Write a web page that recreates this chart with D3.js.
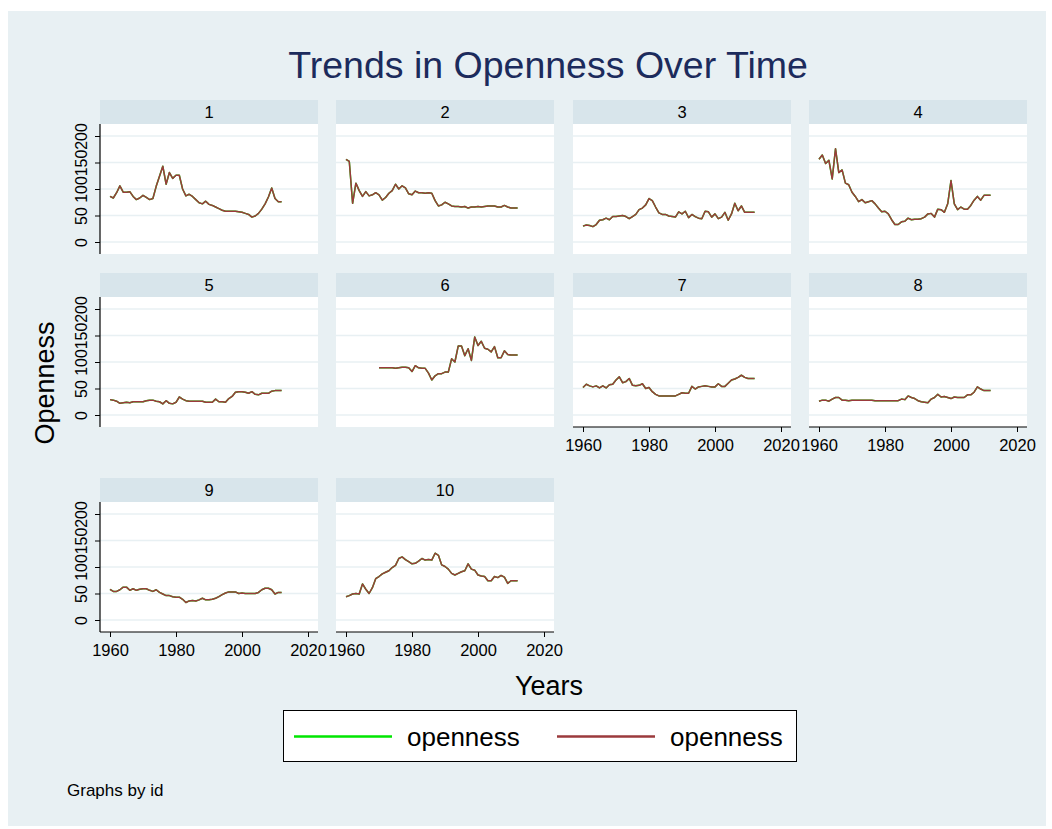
<!DOCTYPE html>
<html>
<head>
<meta charset="utf-8">
<script src="https://cdn.jsdelivr.net/npm/d3@7"></script>
<style>
  body { margin: 0; background: #ffffff; }
  svg text { font-family: "Liberation Sans", Arial, Helvetica, sans-serif; }
</style>
</head>
<body>
<div id="graph"></div>
<script>
// Openness by id, 1960-2012 (panel 6 starts in 1970)
const years = d3.range(1960, 2013)
const ids = [1, 2, 3, 4, 5, 6, 7, 8, 9, 10]

const open1 = [86, 83, 93, 106, 94, 94, 95, 86, 80, 83, 88, 84, 80, 82, 105, 124, 143, 109, 131, 120, 126, 126, 100, 87, 90, 86, 80, 74, 72, 77, 71, 69, 66, 63, 60, 58, 58, 58, 58, 57, 56, 54, 52, 47, 49, 54, 62, 72, 85, 102, 82, 76, 76]
const open2 = [156, 152, 73, 111, 97, 86, 95, 87, 89, 93, 89, 79, 84, 92, 97, 109, 100, 106, 102, 91, 89, 96, 93, 93, 92, 93, 92, 78, 68, 70, 75, 72, 68, 67, 67, 66, 67, 64, 66, 66, 67, 66, 67, 68, 68, 68, 66, 66, 69, 66, 64, 64, 64]
const open3 = [30, 32, 31, 29, 33, 41, 42, 45, 42, 48, 48, 49, 50, 48, 44, 48, 52, 61, 64, 70, 82, 78, 66, 55, 52, 52, 49, 48, 47, 57, 53, 58, 46, 52, 48, 45, 44, 58, 57, 47, 53, 44, 47, 56, 41, 53, 73, 59, 68, 56, 56, 56, 56]
const open4 = [156, 164, 148, 154, 119, 176, 131, 136, 111, 108, 94, 86, 76, 80, 74, 76, 78, 72, 64, 57, 58, 53, 42, 33, 33, 38, 39, 45, 42, 43, 43, 44, 47, 53, 54, 47, 62, 61, 56, 72, 116, 72, 61, 66, 62, 62, 69, 79, 86, 79, 88, 88, 88]
const open5 = [29, 28, 26, 22, 23, 24, 23, 25, 25, 25, 25, 27, 28, 28, 26, 25, 21, 27, 22, 21, 24, 34, 30, 27, 26, 26, 26, 26, 26, 24, 24, 24, 30, 25, 25, 24, 31, 35, 43, 44, 44, 43, 41, 44, 39, 38, 41, 41, 41, 45, 46, 46, 46]
const open6 = [null, null, null, null, null, null, null, null, null, null, 89, 89, 89, 89, 89, 88, 89, 90, 90, 89, 82, 93, 89, 88, 88, 79, 66, 74, 78, 78, 81, 81, 106, 100, 130, 130, 112, 125, 103, 147, 131, 139, 126, 124, 119, 129, 108, 108, 121, 114, 113, 113, 113]
const open7 = [52, 58, 55, 53, 55, 51, 55, 51, 57, 58, 66, 72, 61, 63, 69, 56, 55, 56, 59, 50, 52, 44, 39, 36, 36, 36, 36, 36, 36, 39, 42, 41, 41, 54, 49, 53, 54, 55, 54, 53, 53, 59, 54, 54, 60, 66, 68, 71, 75, 71, 69, 69, 69]
const open8 = [26, 28, 28, 26, 30, 33, 33, 28, 28, 27, 28, 28, 28, 28, 28, 28, 28, 27, 27, 27, 27, 27, 27, 27, 27, 30, 29, 36, 33, 31, 27, 25, 24, 23, 30, 33, 39, 34, 35, 33, 31, 34, 33, 33, 33, 38, 38, 43, 53, 49, 46, 46, 46]
const open9 = [58, 54, 54, 57, 62, 62, 56, 59, 56, 58, 59, 59, 56, 54, 57, 52, 49, 46, 46, 44, 43, 43, 39, 33, 36, 37, 36, 38, 41, 38, 38, 39, 41, 44, 48, 51, 53, 53, 53, 50, 51, 50, 50, 50, 50, 52, 57, 60, 60, 57, 49, 52, 52]
const open10 = [44, 46, 49, 50, 49, 68, 58, 50, 61, 78, 82, 87, 90, 93, 99, 103, 116, 119, 114, 110, 106, 107, 111, 116, 113, 114, 113, 126, 122, 104, 101, 96, 88, 85, 88, 91, 93, 106, 96, 94, 85, 83, 82, 74, 74, 82, 80, 84, 81, 69, 74, 74, 74]
const series = [open1, open2, open3, open4, open5, open6, open7, open8, open9, open10]

const yTicks = [0, 50, 100, 150, 200]
const xTicks = [1960, 1980, 2000, 2020]
const legendLabels = ['openness', 'openness']
const lineColors = ['#00e600', '#9b3a3c']

const W = 1052, H = 829
const colX = [100, 336, 573, 809]
const rowTop = [100, 273, 478]
const panelW = 218, stripH = 24, plotH = 130

const svg = d3.select('#graph')
  .append('svg')
  .attr('width', W)
  .attr('height', H)

// Background (graph region)
svg.append('rect')
  .attr('x', 8).attr('y', 11)
  .attr('width', 1038).attr('height', 815)
  .attr('fill', '#e8f0f3')

// Title
svg.append('text')
  .attr('x', 548).attr('y', 78)
  .attr('text-anchor', 'middle')
  .style('font-size', '37.5px')
  .style('fill', '#1c2b5c')
  .text('Trends in Openness Over Time')

const x = d3.scaleLinear().domain([1960, 2020]).range([10, 208])
const y = d3.scaleLinear().domain([0, 200]).range([118, 12])

const line = d3.line()
  .defined(d => d.v != null)
  .x(d => x(d.year))
  .y(d => y(d.v))

ids.forEach(function (id, i) {
  const row = Math.floor(i / 4), col = i % 4
  const g = svg.append('g')
    .attr('transform', 'translate(' + colX[col] + ',' + rowTop[row] + ')')

  // Header strip
  g.append('rect')
    .attr('width', panelW).attr('height', stripH)
    .attr('fill', '#d8e5eb')
  g.append('text')
    .attr('x', panelW / 2).attr('y', stripH / 2 + 6)
    .attr('text-anchor', 'middle')
    .style('font-size', '16.5px')
    .text(id)

  const plot = g.append('g').attr('transform', 'translate(0,' + stripH + ')')
  plot.append('rect')
    .attr('width', panelW).attr('height', plotH)
    .attr('fill', '#ffffff')

  // Grid lines
  plot.selectAll('.grid')
    .data(yTicks)
    .join('line')
    .attr('x1', 0).attr('x2', panelW)
    .attr('y1', d => y(d)).attr('y2', d => y(d))
    .attr('stroke', '#e8f0f3')
    .attr('stroke-width', 1.5)

  // Both "openness" series share the same values; the second one covers the first
  const data = years.map((yr, k) => ({ year: yr, v: series[i][k] }))
  lineColors.forEach(function (c, k) {
    plot.append('path')
      .datum(data)
      .attr('fill', 'none')
      .attr('stroke', c)
      .attr('stroke-width', 1.5)
      .attr('stroke-linejoin', 'round')
      .attr('d', line)
  })

  // Y axis on first column
  if (col === 0) {
    const ya = plot.append('g')
      .call(d3.axisLeft(y).tickValues(yTicks).tickSize(5).tickSizeOuter(0))
    ya.select('.domain').remove()
    ya.append('line')
      .attr('x1', 0).attr('x2', 0).attr('y1', 0).attr('y2', plotH)
      .attr('stroke', '#000').attr('stroke-width', 1.2)
    ya.selectAll('.tick line').attr('stroke', '#000')
    ya.selectAll('.tick text')
      .attr('x', null).attr('dy', null)
      .attr('transform', 'translate(-13,0) rotate(-90)')
      .attr('text-anchor', 'middle')
      .style('font-size', '16px')
      .style('font-family', '"Liberation Sans", Arial, sans-serif')
      .style('fill', '#000')
  }

  // X axis on bottom panels
  if (row === 2 || (row === 1 && col >= 2)) {
    const xa = plot.append('g')
      .attr('transform', 'translate(0,' + plotH + ')')
      .call(d3.axisBottom(x).tickValues(xTicks).tickFormat(d3.format('d')).tickSize(5).tickSizeOuter(0))
    xa.select('.domain').remove()
    xa.append('line')
      .attr('x1', 0).attr('x2', panelW)
      .attr('stroke', '#000').attr('stroke-width', 1.2)
    xa.selectAll('.tick line').attr('stroke', '#000')
    xa.selectAll('.tick text')
      .attr('y', 12)
      .style('font-size', '16.5px')
      .style('font-family', '"Liberation Sans", Arial, sans-serif')
      .style('fill', '#000')
  }
})

// Axis titles
svg.append('text')
  .attr('transform', 'translate(54,383) rotate(-90)')
  .attr('text-anchor', 'middle')
  .style('font-size', '27px')
  .text('Openness')

svg.append('text')
  .attr('x', 549).attr('y', 695)
  .attr('text-anchor', 'middle')
  .style('font-size', '27px')
  .text('Years')

// Legend
const leg = svg.append('g')
leg.append('rect')
  .attr('x', 283.5).attr('y', 710.5)
  .attr('width', 513).attr('height', 51)
  .attr('fill', '#fff')
  .attr('stroke', '#000')
  .attr('stroke-width', 1)
const legX = [294, 557]
legendLabels.forEach(function (lab, k) {
  leg.append('line')
    .attr('x1', legX[k]).attr('x2', legX[k] + 98)
    .attr('y1', 736.5).attr('y2', 736.5)
    .attr('stroke', lineColors[k])
    .attr('stroke-width', 2.5)
  leg.append('text')
    .attr('x', legX[k] + 113).attr('y', 746)
    .style('font-size', '26px')
    .text(lab)
})

svg.append('text')
  .attr('x', 67).attr('y', 796)
  .style('font-size', '17px')
  .text('Graphs by id')
</script>
</body>
</html>
